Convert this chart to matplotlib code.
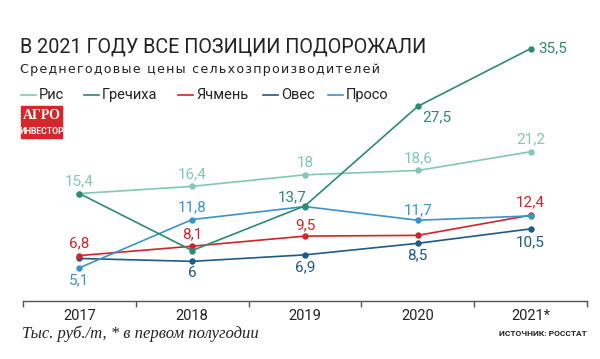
import matplotlib
matplotlib.use("Agg")
import matplotlib.pyplot as plt
import matplotlib.patches as mpatches

years = ["2017", "2018", "2019", "2020", "2021*"]
series_names = ["Рис", "Гречиха", "Ячмень", "Овес", "Просо"]
rice = [15.4, 16.4, 18.0, 18.6, 21.2]
buckwheat = [15.4, 7.5, 13.7, 27.5, 35.5]
barley = [6.8, 8.1, 9.5, 9.6, 12.4]
oats = [6.4, 6.0, 6.9, 8.5, 10.5]
millet = [5.1, 11.8, 13.6, 11.7, 12.3]

COLORS = ["#82c8b4", "#2b8b70", "#d2232a", "#1d5a86", "#3a94c8"]
NARROW = ["Roboto", "DejaVu Sans"]

# which points get a label, and where (dx, dy in px)
labels = {
    0: [(0, 12), (0, 12), (0, 12), (0, 12), (0, 12)],
    1: [None, None, (-13, 9), (19, -11), (8, 0, "left")],
    2: [(0, 12), (0, 12), (0, 11), None, (0, 13)],
    3: [None, (0, -12), (0, -12), (0, -12), (0, -13)],
    4: [(0, -12), (0, 12), None, (0, 10), None],
}

W, H = 600, 359
fig = plt.figure(figsize=(6, 3.59), dpi=100, facecolor="white")


def fx(x):
    return x / W


def fy(y):
    return 1 - y / H


ax = fig.add_axes([fx(23), fy(301), 564 / W, 274 / H])
ax.set_xlim(-0.5, 4.5)
ax.set_ylim(0.5, 38.5)

data = [rice, buckwheat, barley, oats, millet]
order = [0, 3, 2, 4, 1]
for i in order:
    ax.plot(range(5), data[i], color=COLORS[i], lw=1.2, marker="o", ms=3.6, zorder=3)

for i, vals in enumerate(data):
    for j, v in enumerate(vals):
        spec = labels[i][j]
        if spec is None:
            continue
        ha = spec[2] if len(spec) > 2 else "center"
        txt = f"{v:g}".replace(".", ",")
        ax.annotate(txt, (j, v), xytext=(spec[0] * 0.72, spec[1] * 0.72),
                    textcoords="offset points", ha=ha, va="center",
                    fontsize=11, color=COLORS[i], family=NARROW)

for s in ["top", "right", "left"]:
    ax.spines[s].set_visible(False)
ax.spines["bottom"].set_color("#555555")
ax.spines["bottom"].set_linewidth(1.0)
ax.set_yticks([])
ax.set_xticks(range(5))
ax.set_xticklabels(years, fontsize=10.5, family=NARROW, color="#222222")
ax.set_xticks([-0.5, 0.5, 1.5, 2.5, 3.5, 4.5], minor=True)
ax.tick_params(axis="x", which="major", length=0, pad=6)
ax.tick_params(axis="x", which="minor", length=4, width=1.0, color="#555555")

# title block
fig.text(fx(20), fy(47), "В 2021 ГОДУ ВСЕ ПОЗИЦИИ ПОДОРОЖАЛИ", fontsize=14.2,
         family=NARROW, color="#222222", va="center", ha="left")
sub = "Среднегодовые цены сельхозпроизводителей"
fig.text(fx(20), fy(69), "\u200a".join(sub), fontsize=9.1,
         family=["DejaVu Sans"], color="#222222", va="center", ha="left")

# legend
leg_x = [21, 84, 178, 263, 328]
for x, name, c in zip(leg_x, series_names, COLORS):
    fig.add_artist(plt.Line2D([fx(x), fx(x + 15)], [fy(95), fy(95)], color=c, lw=1.2))
    fig.text(fx(x + 18), fy(95), name, fontsize=10.5, family=NARROW,
             color="#222222", va="center", ha="left")

# logo
fig.add_artist(mpatches.Rectangle((fx(21), fy(138)), 41 / W, 32 / H,
                                  color="#d6262c", transform=fig.transFigure))
fig.text(fx(41.5), fy(115), "АГРО", fontsize=10, family=["Liberation Serif"], weight="bold",
         color="white", ha="center", va="center")
fig.text(fx(41.5), fy(131), "ИНВЕСТОР", fontsize=6.2, family=NARROW, weight="bold",
         color="white", ha="center", va="center")

# footer
fig.text(fx(22), fy(334), "Тыс. руб./т, * в первом полугодии", fontsize=12,
         family=["Liberation Serif"], style="italic", color="#222222", va="center")
fig.text(fx(587), fy(334), "ИСТОЧНИК: РОССТАТ", fontsize=6,
         family=NARROW, weight="bold", color="#222222", va="center", ha="right")

fig.savefig("out.png", dpi=100, facecolor="white")
